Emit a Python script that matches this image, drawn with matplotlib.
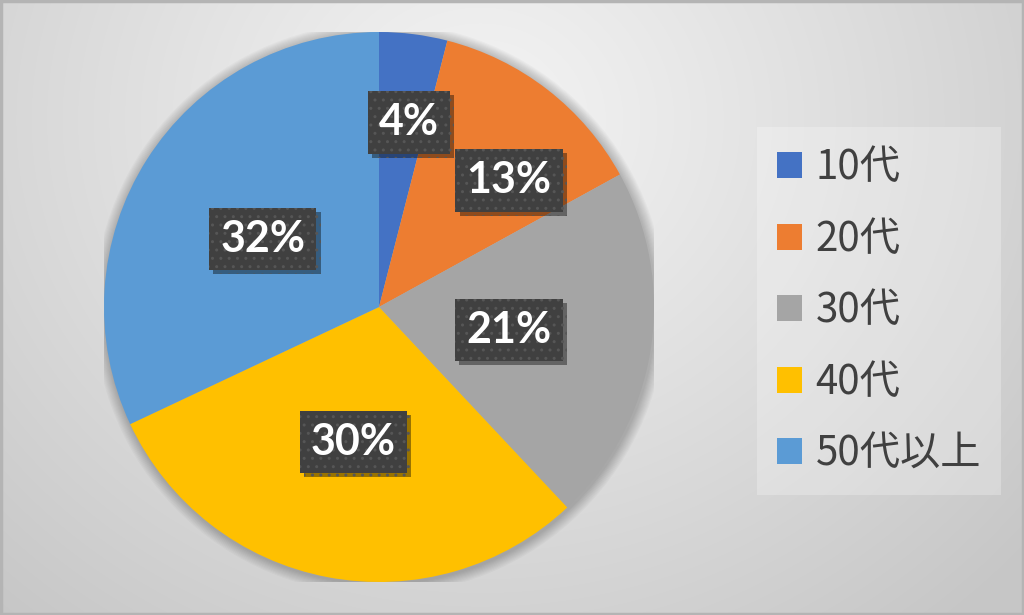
import numpy as np
import matplotlib
matplotlib.use("Agg")
import matplotlib.pyplot as plt
from matplotlib.patches import Circle, Rectangle, Patch
import matplotlib.patheffects as pe

plt.rcParams['font.family'] = ['Noto Sans CJK JP', 'DejaVu Sans']

categories = ["10代", "20代", "30代", "40代", "50代以上"]
values = [4, 13, 21, 30, 32]
colors = ["#4472C4", "#ED7D31", "#A5A5A5", "#FFC000", "#5B9BD5"]
pct_labels = ["4%", "13%", "21%", "30%", "32%"]
# label placement (style): radial distance fraction and angular shift (deg)
label_dist = [0.68, 0.66, 0.48, 0.50, 0.49]
label_shift = [-2, -8, -1, 0, 2]

W, H = 1024, 615
fig = plt.figure(figsize=(W / 100, H / 100), dpi=100)

# background gradient
bg = fig.add_axes([0, 0, 1, 1])
bg.set_axis_off()
yy, xx = np.mgrid[0:H, 0:W]
d = np.sqrt(((xx - 480) / 1.0) ** 2 + ((yy - 120) / 0.9) ** 2)
t = np.clip(d / 720, 0, 1) ** 1.1
img = 0.955 - t * (0.955 - 0.78)
bg.imshow(np.dstack([img, img, img]), extent=[0, W, H, 0], aspect='auto', zorder=0)
bg.set_xlim(0, W)
bg.set_ylim(H, 0)
bg.add_patch(Rectangle((1, 1), W - 2, H - 2, fill=False, edgecolor="#b4b4b4", lw=2.5, zorder=2))

# pie axes
cx, cy, R = 379, 307, 275
ax = fig.add_axes([(cx - R) / W, (H - cy - R) / H, 2 * R / W, 2 * R / H])
ax.set_axis_off()

# soft shadow
for i in range(10):
    ax.add_patch(Circle((0.004, -0.006), 1.0 + 0.004 * (i + 1), color="black",
                        alpha=0.025, lw=0, zorder=0.5))

wedges, _ = ax.pie(values, colors=colors, startangle=90, counterclock=False,
                   radius=1.0, wedgeprops=dict(linewidth=0))
for w in wedges:
    w.set_zorder(1)
ax.set_xlim(-1, 1)
ax.set_ylim(-1, 1)

for w, lab, rd, sh in zip(wedges, pct_labels, label_dist, label_shift):
    ang = np.deg2rad((w.theta1 + w.theta2) / 2 + sh)
    x, y = rd * np.cos(ang), rd * np.sin(ang)
    t = ax.text(x, y, lab, ha='center', va='center', fontsize=31, fontweight='bold',
                family=['Lato', 'DejaVu Sans'], color='white', zorder=4,
                bbox=dict(boxstyle='square,pad=0.26', facecolor='#404040',
                          edgecolor='#565656', linewidth=0, hatch='..'))
    t.get_bbox_patch().set_path_effects([
        pe.SimplePatchShadow(offset=(3, -3), shadow_rgbFace='black', alpha=0.4),
        pe.Normal()])

handles = [Patch(facecolor=c, edgecolor='none') for c in colors]
leg = fig.legend(handles, categories, loc='upper left',
                 bbox_to_anchor=(757 / W, 1 - 127 / H), bbox_transform=fig.transFigure,
                 prop=dict(family=['Noto Sans CJK JP', 'DejaVu Sans'], size=29),
                 labelcolor='#404040', frameon=True, fancybox=False,
                 handlelength=0.62, handleheight=0.62, handletextpad=0.33,
                 labelspacing=0.76, borderpad=0.5, borderaxespad=0)
fr = leg.get_frame()
fr.set_alpha(None)
fr.set_facecolor((1, 1, 1, 0.25))
fr.set_edgecolor('none')

fig.savefig("out.png", dpi=100)
